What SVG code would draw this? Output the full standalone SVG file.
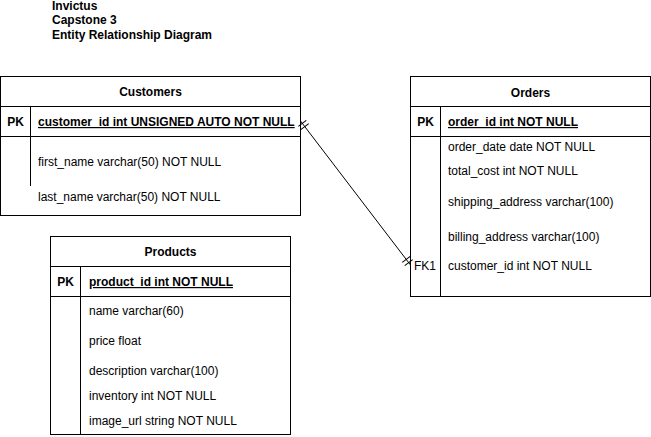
<svg xmlns="http://www.w3.org/2000/svg" width="651" height="437" viewBox="0 0 651 437">
<defs>
<style>
text{font-family:"Liberation Sans",Arial,sans-serif;font-size:12px;fill:#000}
.b{font-weight:bold}
.u{text-decoration:underline}
.m{text-anchor:middle}
.box{fill:#fff;stroke:#000;stroke-width:1}
.ln{stroke:#000;stroke-width:1;fill:none}
</style>
<marker id="erOne" markerUnits="userSpaceOnUse" markerWidth="20" markerHeight="20" refX="10" refY="10" viewBox="0 0 20 20" orient="auto-start-reverse" overflow="visible">
<path d="M7,5V15M3,5V15" stroke="#000" stroke-width="1" fill="none"/>
</marker>
</defs>
<rect x="0" y="0" width="651" height="437" fill="#fff"/>
<g id="title">
<text class="b" x="52" y="10">Invictus</text>
<text class="b" x="52" y="24.4">Capstone 3</text>
<text class="b" x="52" y="38.8">Entity Relationship Diagram</text>
</g>
<g id="customers">
<rect class="box" x="0.5" y="76.5" width="300" height="139"/>
<path class="ln" d="M0.5,106.5H300.5M0.5,136.5H300.5M30.5,106.5V186"/>
<text class="b m" x="150.5" y="96">Customers</text>
<text class="b m" x="15.5" y="126">PK</text>
<text class="b u" x="38" y="126">customer_id int UNSIGNED AUTO NOT NULL</text>
<text x="38" y="166">first_name varchar(50) NOT NULL</text>
<text x="38" y="201">last_name varchar(50) NOT NULL</text>
</g>
<g id="orders">
<rect class="box" x="410.5" y="76.5" width="240" height="220"/>
<path class="ln" d="M410.5,106.5H650.5M410.5,136.5H650.5M440.5,106.5V296.5"/>
<text class="b m" x="530.5" y="97">Orders</text>
<text class="b m" x="425.5" y="126">PK</text>
<text class="b u" x="448" y="126">order_id int NOT NULL</text>
<text x="448" y="151">order_date date NOT NULL</text>
<text x="448" y="175">total_cost int NOT NULL</text>
<text x="448" y="206">shipping_address varchar(100)</text>
<text x="448" y="241">billing_address varchar(100)</text>
<text x="414" y="270">FK1</text>
<text x="448" y="270">customer_id int NOT NULL</text>
</g>
<g id="products">
<rect class="box" x="50.5" y="236.5" width="240" height="198"/>
<path class="ln" d="M50.5,266.5H290.5M50.5,296.5H290.5M80.5,266.5V434.5"/>
<text class="b m" x="170.5" y="256">Products</text>
<text class="b m" x="65.5" y="286">PK</text>
<text class="b u" x="89" y="286">product_id int NOT NULL</text>
<text x="89" y="315">name varchar(60)</text>
<text x="89" y="345">price float</text>
<text x="89" y="375">description varchar(100)</text>
<text x="89" y="400">inventory int NOT NULL</text>
<text x="89" y="425">image_url string NOT NULL</text>
</g>
<g id="connectors">
<path class="ln" d="M300.5,121L410.5,265" marker-start="url(#erOne)" marker-end="url(#erOne)"/>
</g>
</svg>
